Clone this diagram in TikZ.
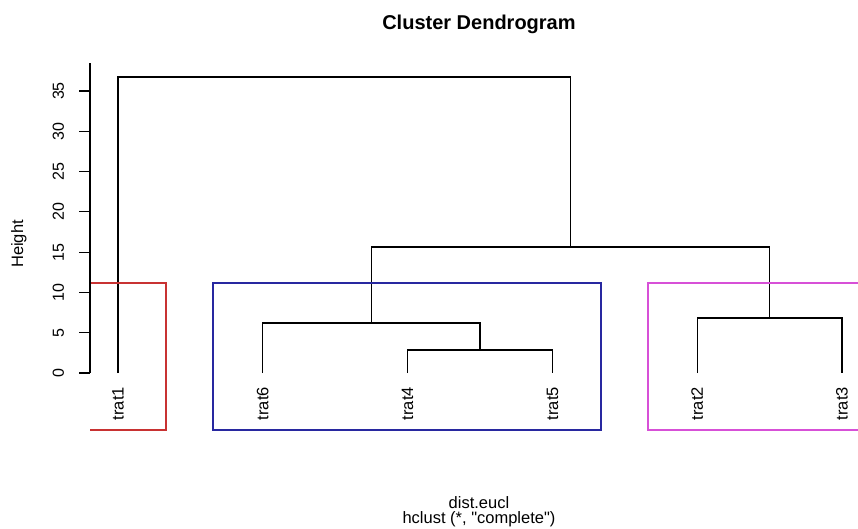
\documentclass[tikz,border=0pt]{standalone}
\usepackage{fontspec}
\setmainfont{Liberation Sans}
\usepackage{xcolor}
\usepackage{tikz}
\usetikzlibrary{positioning}
\definecolor{clred}{RGB}{200,50,50}
\definecolor{clblue}{RGB}{40,40,160}
\definecolor{clmag}{RGB}{215,80,215}
\tikzstyle{branch} = [draw=black, line width=1.1pt]
\tikzstyle{cutbox} = [line width=1.2pt]
\tikzstyle{leaf} = [rotate=90, anchor=east, inner sep=0pt,
    font=\fontsize{16.5}{19}\selectfont]
\tikzstyle{ticklabel} = [rotate=90, inner sep=0pt,
    font=\fontsize{16}{19}\selectfont]
\tikzstyle{axlabel} = [inner sep=0pt, font=\fontsize{16.5}{19}\selectfont]

\begin{document}
\begin{tikzpicture}[x=144.8pt, y=8.057pt]
    \useasboundingbox (-0.8149,-19.238) rectangle (5.1105,46.295);

    % Place leaves
    \coordinate (l1) at (0,0);
    \coordinate (l6) at (1,0);
    \coordinate (l4) at (2,0);
    \coordinate (l5) at (3,0);
    \coordinate (l2) at (4,0);
    \coordinate (l3) at (5,0);
    \node [leaf] (trat1) at (0,-1.74) {trat1};
    \node [leaf] (trat6) at (1,-1.74) {trat6};
    \node [leaf] (trat4) at (2,-1.74) {trat4};
    \node [leaf] (trat5) at (3,-1.74) {trat5};
    \node [leaf] (trat2) at (4,-1.74) {trat2};
    \node [leaf] (trat3) at (5,-1.74) {trat3};

    % Merge heights
    \coordinate (m45) at (2.5,2.85);
    \coordinate (m645) at (1.75,6.21);
    \coordinate (m23) at (4.5,6.83);
    \coordinate (mB) at (3.125,15.64);
    \coordinate (mTop) at (1.5625,36.74);

    \path [branch] (l4) |- (m45) -| (l5);
    \path [branch] (l6) |- (m645) -| (m45);
    \path [branch] (l2) |- (m23) -| (l3);
    \path [branch] (m645) |- (mB) -| (m23);
    \path [branch] (l1) |- (mTop) -| (mB);

    % Cluster boxes
    \path [cutbox, draw=clred] (-0.1934,11.17) -| (0.3315,-7.07) -- (-0.1934,-7.07);
    \path [cutbox, draw=clblue] (0.656,11.17) rectangle (3.336,-7.07);
    \path [cutbox, draw=clmag] (5.1105,11.17) -| (3.660,-7.07) -- (5.1105,-7.07);

    % Axis
    \draw [line width=1.1pt] (-0.1934,0) -- (-0.1934,38.5);
    \foreach \h in {0,5,...,35} {
        \draw [line width=1.1pt] (-0.269,\h) -- (-0.1934,\h);
        \node [ticklabel] (tick\h) at (-0.411,\h) {\h};
    }

    % Titles
    \node [axlabel, rotate=90] (ylab) at (-0.684,16.01) {Height};
    \node [axlabel, anchor=base, font=\fontsize{20}{24}\selectfont\bfseries]
        (title) at (2.493,42.63) {Cluster Dendrogram};
    \node [axlabel, anchor=base] (xlab) at (2.493,-16.76) {dist.eucl};
    \node [axlabel, anchor=base] (method) at (2.493,-18.74)
        {hclust (*, \textquotedbl complete\textquotedbl)};
\end{tikzpicture}
\end{document}
